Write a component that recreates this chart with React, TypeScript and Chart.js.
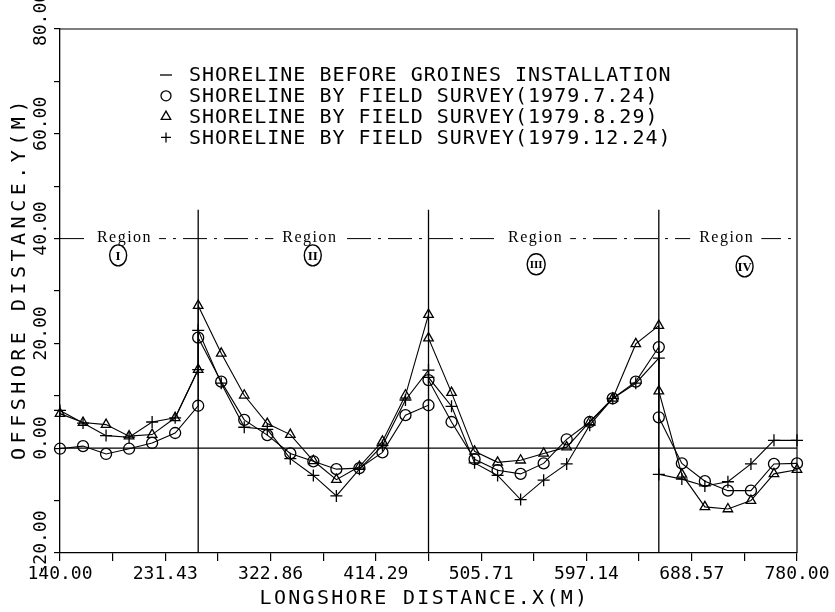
import React, { useEffect, useRef } from 'react';
import { Chart, registerables } from 'chart.js';

Chart.register(...registerables);

// ---- data ----
const X_POSITIONS = [140, 160, 180, 200, 220, 240, 260, 260, 280, 300, 320, 340, 360, 380, 400, 420, 440, 460, 460, 480, 500, 520, 540, 560, 580, 600, 620, 640, 660, 660, 680, 700, 720, 740, 760, 780];
const SURVEY_1979_7_24 = [-0.1, 0.4, -1.1, -0.1, 1.0, 2.9, 8.1, 21.1, 12.7, 5.4, 2.5, -1.0, -2.5, -4.0, -3.8, -0.8, 6.3, 8.2, 13.0, 5.0, -2.1, -4.2, -4.9, -2.9, 1.7, 5.0, 9.5, 12.7, 19.3, 5.9, -2.9, -6.3, -8.1, -8.1, -3.0, -2.9];
const SURVEY_1979_8_29 = [6.6, 4.9, 4.5, 2.3, 2.6, 5.8, 15.0, 27.2, 18.1, 10.1, 4.7, 2.6, -2.4, -6.0, -3.5, 1.3, 10.1, 25.5, 21.0, 10.6, -0.6, -2.7, -2.3, -1.0, 0.2, 5.0, 9.5, 19.9, 23.4, 10.9, -5.0, -11.2, -11.6, -10.0, -4.9, -4.1];
const SURVEY_1979_12_24 = [7.2, 4.8, 2.4, 2.1, 5.0, 5.8, 15.0, 22.5, 12.4, 4.0, 3.6, -2.0, -5.2, -9.1, -4.0, 0.5, 9.2, 14.9, 13.5, 8.0, -2.8, -5.2, -9.8, -6.1, -3.0, 4.4, 9.5, 12.4, 17.2, -5.0, -5.9, -7.2, -6.4, -3.0, 1.5, 1.5];

const BASELINE_X = [140, 780];
const BASELINE_Y = [0, 0];
const GROYNE_X = [260, 460, 660];
const GROYNE_Y = [-20, 45.5];
const REGION_LINE_X = [140, 780];
const REGION_LINE_Y = [40, 40];
const REGION_NAMES = ['I', 'II', 'III', 'IV'];

const X_TICKS = [140, 185.71, 231.43, 277.14, 322.86, 368.57, 414.29, 460, 505.71, 551.43, 597.14, 642.86, 688.57, 734.29, 780];
const X_TICK_LABELS = ['140.00', '', '231.43', '', '322.86', '', '414.29', '', '505.71', '', '597.14', '', '688.57', '', '780.00'];
const Y_TICKS = [-20, -10, 0, 10, 20, 30, 40, 50, 60, 70, 80];
const Y_TICK_LABELS = ['-20.00', '', '0.00', '', '20.00', '', '40.00', '', '60.00', '', '80.00'];

const LEGEND_LABELS = [
  'SHORELINE BEFORE GROINES INSTALLATION',
  'SHORELINE BY FIELD SURVEY(1979.7.24)',
  'SHORELINE BY FIELD SURVEY(1979.8.29)',
  'SHORELINE BY FIELD SURVEY(1979.12.24)',
];
const X_TITLE = 'LONGSHORE DISTANCE.X(M)';
const Y_TITLE = 'OFFSHORE DISTANCE.Y(M)';

// annotation placement (data units)
const REGION_ANNOT = {
  labelX: [196, 357, 553, 719],
  markX: [190.5, 359.5, 553.5, 734.5],
  markY: [36.8, 36.8, 35.1, 34.7],
};

const MONO = '"DejaVu Sans Mono", monospace';
const SERIF = '"Liberation Serif", serif';

function drawMarker(ctx: CanvasRenderingContext2D, style: string, x: number, y: number, r: number) {
  ctx.beginPath();
  if (style === 'circle') {
    ctx.arc(x, y, r, 0, Math.PI * 2);
  } else if (style === 'triangle') {
    let rad = 0;
    ctx.moveTo(x + Math.sin(rad) * r, y - Math.cos(rad) * r);
    rad += (2 * Math.PI) / 3;
    ctx.lineTo(x + Math.sin(rad) * r, y - Math.cos(rad) * r);
    rad += (2 * Math.PI) / 3;
    ctx.lineTo(x + Math.sin(rad) * r, y - Math.cos(rad) * r);
    ctx.closePath();
  } else if (style === 'cross') {
    ctx.moveTo(x - r, y);
    ctx.lineTo(x + r, y);
    ctx.moveTo(x, y - r);
    ctx.lineTo(x, y + r);
  } else if (style === 'line') {
    ctx.moveTo(x - r - 1, y);
    ctx.lineTo(x + r + 1, y);
  }
  ctx.stroke();
}

const overlayPlugin = {
  id: 'overlay',
  afterDatasetsDraw(chart: any) {
    const ctx: CanvasRenderingContext2D = chart.ctx;
    const xs = chart.scales.x;
    const ys = chart.scales.y;
    ctx.save();
    // region labels on the dash-dot line
    ctx.font = `16px ${SERIF}`;
    (ctx as any).letterSpacing = '1.5px';
    ctx.textAlign = 'center';
    ctx.textBaseline = 'alphabetic';
    REGION_NAMES.forEach((_, i) => {
      const px = xs.getPixelForValue(REGION_ANNOT.labelX[i]);
      const py = ys.getPixelForValue(REGION_LINE_Y[0]);
      const w = ctx.measureText('Region').width;
      ctx.fillStyle = '#fff';
      ctx.fillRect(px - w / 2 - 9, py - 9, w + 16, 16);
      ctx.fillStyle = '#000';
      ctx.fillText('Region', px, py + 3);
    });
    (ctx as any).letterSpacing = '0px';
    // circled roman numerals
    ctx.strokeStyle = '#000';
    ctx.lineWidth = 1.4;
    REGION_NAMES.forEach((name, i) => {
      const px = xs.getPixelForValue(REGION_ANNOT.markX[i]);
      const py = ys.getPixelForValue(REGION_ANNOT.markY[i]);
      ctx.beginPath();
      ctx.ellipse(px, py, name.length > 2 ? 9 : 8.5, 10.5, 0, 0, Math.PI * 2);
      ctx.stroke();
      ctx.font = `bold ${name.length > 2 ? 11 : 13}px ${SERIF}`;
      ctx.textAlign = 'center';
      ctx.textBaseline = 'middle';
      ctx.fillStyle = '#000';
      ctx.fillText(name, px, py + 1);
    });
    ctx.restore();
  },
  afterDraw(chart: any) {
    const ctx: CanvasRenderingContext2D = chart.ctx;
    const { left, top, right, bottom } = chart.chartArea;
    const ys = chart.scales.y;
    ctx.save();
    // top and right frame
    ctx.strokeStyle = '#000';
    ctx.lineWidth = 1.2;
    ctx.beginPath();
    ctx.moveTo(left, top);
    ctx.lineTo(right, top);
    ctx.lineTo(right, bottom);
    ctx.stroke();

    // rotated y tick labels
    ctx.fillStyle = '#000';
    ctx.font = `18px ${MONO}`;
    ctx.textAlign = 'center';
    ctx.textBaseline = 'middle';
    Y_TICKS.forEach((v, i) => {
      const label = Y_TICK_LABELS[i];
      if (!label) return;
      const py = ys.getPixelForValue(v);
      ctx.save();
      ctx.translate(left - 19, py - 10);
      ctx.rotate(-Math.PI / 2);
      ctx.fillText(label, 0, 0);
      ctx.restore();
    });

    // axis titles
    ctx.font = `20px ${MONO}`;
    (ctx as any).letterSpacing = '2.3px';
    ctx.fillText(X_TITLE, (left + right) / 2 - 4, chart.height - 13);
    (ctx as any).letterSpacing = '4.5px';
    ctx.save();
    ctx.translate(20, (top + bottom) / 2 - 13);
    ctx.rotate(-Math.PI / 2);
    ctx.fillText(Y_TITLE, 0, 0);
    ctx.restore();

    // legend
    const styles = ['line', 'circle', 'triangle', 'cross'];
    (ctx as any).letterSpacing = '1px';
    ctx.font = `20px ${MONO}`;
    ctx.textAlign = 'left';
    ctx.lineWidth = 1.3;
    LEGEND_LABELS.forEach((label, i) => {
      const y = 75 + i * 20.8;
      drawMarker(ctx, styles[i], 166, y, styles[i] === 'triangle' ? 5.5 : 5);
      ctx.fillText(label, 189, y + 1);
    });
    ctx.restore();
  },
};

export default function App() {
  const ref = useRef<HTMLCanvasElement>(null);

  useEffect(() => {
    const canvas = ref.current;
    if (!canvas) return;

    const seriesStyle = (style: string, radius: number) => ({
      borderColor: '#000',
      borderWidth: 1.1,
      pointStyle: style,
      pointRadius: radius,
      pointBorderWidth: 1.3,
      pointBorderColor: '#000',
      pointBackgroundColor: 'rgba(0,0,0,0)',
      tension: 0,
      fill: false,
      clip: false,
    });

    const datasets: any[] = [
      {
        label: LEGEND_LABELS[1],
        data: X_POSITIONS.map((x, i) => ({ x, y: SURVEY_1979_7_24[i] })),
        ...seriesStyle('circle', 5.5),
      },
      {
        label: LEGEND_LABELS[2],
        data: X_POSITIONS.map((x, i) => ({ x, y: SURVEY_1979_8_29[i] })),
        ...seriesStyle('triangle', 5.5),
      },
      {
        label: LEGEND_LABELS[3],
        data: X_POSITIONS.map((x, i) => ({ x, y: SURVEY_1979_12_24[i] })),
        ...seriesStyle('cross', 6),
      },
      {
        label: LEGEND_LABELS[0],
        data: BASELINE_X.map((x, i) => ({ x, y: BASELINE_Y[i] })),
        borderColor: '#000',
        borderWidth: 1.2,
        pointRadius: 0,
      },
      ...GROYNE_X.map((gx) => ({
        label: 'groyne',
        data: GROYNE_Y.map((y) => ({ x: gx, y })),
        borderColor: '#000',
        borderWidth: 1.3,
        pointRadius: 0,
      })),
      {
        label: 'region boundary',
        data: REGION_LINE_X.map((x, i) => ({ x, y: REGION_LINE_Y[i] })),
        borderColor: '#000',
        borderWidth: 1,
        borderDash: [24, 7, 3, 7],
        pointRadius: 0,
      },
    ];

    const chart = new Chart(canvas, {
      type: 'line',
      data: { datasets },
      options: {
        animation: false,
        responsive: false,
        devicePixelRatio: 1,
        layout: { padding: { left: 0, right: 38, top: 29, bottom: 0 } },
        plugins: {
          legend: { display: false },
          tooltip: { enabled: false },
        },
        scales: {
          x: {
            type: 'linear',
            min: 140,
            max: 780,
            afterBuildTicks: (scale: any) => {
              scale.ticks = X_TICKS.map((value) => ({ value }));
            },
            afterFit: (scale: any) => {
              scale.height = 59;
            },
            ticks: {
              autoSkip: false,
              maxRotation: 0,
              minRotation: 0,
              padding: 3,
              color: '#000',
              font: { family: MONO, size: 18 },
              callback: (_v: any, index: number) => X_TICK_LABELS[index],
            },
            grid: {
              display: true,
              drawOnChartArea: false,
              drawTicks: true,
              tickLength: 8,
              color: '#000',
              lineWidth: 1.2,
            },
            border: { display: true, color: '#000', width: 1.3 },
          },
          y: {
            type: 'linear',
            min: -20,
            max: 80,
            afterBuildTicks: (scale: any) => {
              scale.ticks = Y_TICKS.map((value) => ({ value }));
            },
            afterFit: (scale: any) => {
              scale.width = 60;
            },
            ticks: { display: false },
            grid: {
              display: true,
              drawOnChartArea: false,
              drawTicks: true,
              tickLength: 6,
              color: '#000',
              lineWidth: 1.2,
            },
            border: { display: true, color: '#000', width: 1.3 },
          },
        },
      } as any,
      plugins: [overlayPlugin],
    });

    return () => chart.destroy();
  }, []);

  return (
    <div style={{ position: 'fixed', left: 0, top: 0, width: 835, height: 612, background: '#fff' }}>
      <canvas ref={ref} width={835} height={612} style={{ display: 'block' }} />
    </div>
  );
}
